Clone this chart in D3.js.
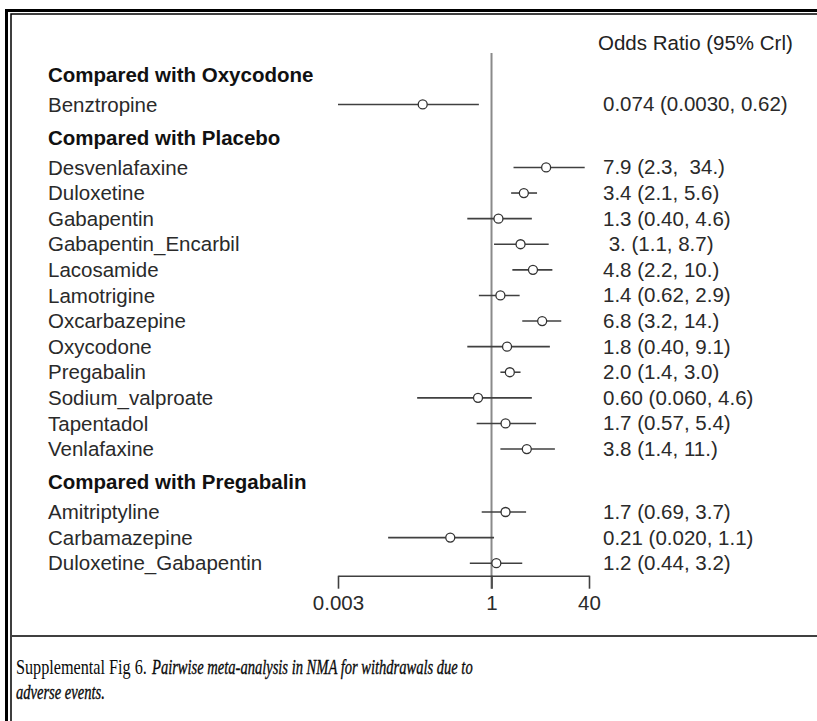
<!DOCTYPE html>
<html>
<head>
<meta charset="utf-8">
<script src="https://cdn.jsdelivr.net/npm/d3@7"></script>
<style>
  body { margin: 0; background: #fff; }
  svg { display: block; }
  text { white-space: pre; }
</style>
</head>
<body>
<div id="chart"></div>
<script>
const groups = ["Compared with Oxycodone", "Compared with Placebo", "Compared with Pregabalin"];

const treatments = [
  "Benztropine",
  "Desvenlafaxine", "Duloxetine", "Gabapentin", "Gabapentin_Encarbil", "Lacosamide",
  "Lamotrigine", "Oxcarbazepine", "Oxycodone", "Pregabalin", "Sodium_valproate",
  "Tapentadol", "Venlafaxine",
  "Amitriptyline", "Carbamazepine", "Duloxetine_Gabapentin"
];
const groupOf = [0, 1, 1, 1, 1, 1, 1, 1, 1, 1, 1, 1, 1, 2, 2, 2];

const estimate = [0.074, 7.9, 3.4, 1.3, 3.0, 4.8, 1.4, 6.8, 1.8, 2.0, 0.60, 1.7, 3.8, 1.7, 0.21, 1.2];
const lower = [0.0030, 2.3, 2.1, 0.40, 1.1, 2.2, 0.62, 3.2, 0.40, 1.4, 0.060, 0.57, 1.4, 0.69, 0.020, 0.44];
const upper = [0.62, 34, 5.6, 4.6, 8.7, 10, 2.9, 14, 9.1, 3.0, 4.6, 5.4, 11, 3.7, 1.1, 3.2];

const valueLabels = [
  "0.074 (0.0030, 0.62)",
  "7.9 (2.3,  34.)", "3.4 (2.1, 5.6)", "1.3 (0.40, 4.6)", " 3. (1.1, 8.7)", "4.8 (2.2, 10.)",
  "1.4 (0.62, 2.9)", "6.8 (3.2, 14.)", "1.8 (0.40, 9.1)", "2.0 (1.4, 3.0)", "0.60 (0.060, 4.6)",
  "1.7 (0.57, 5.4)", "3.8 (1.4, 11.)",
  "1.7 (0.69, 3.7)", "0.21 (0.020, 1.1)", "1.2 (0.44, 3.2)"
];

const tickValues = [0.003, 1, 40];
const tickLabels = ["0.003", "1", "40"];
const columnTitle = "Odds Ratio (95% Crl)";

const width = 817, height = 721;
const font = "'Liberation Sans', Arial, sans-serif";
const fontSize = 20.5;

// build the row list: group header rows followed by their treatments
const rows = [];
let u = 0;
let prev = null;
treatments.forEach((t, i) => {
  if (i === 0 || groupOf[i] !== groupOf[i - 1]) {
    if (prev) u += 1.29;
    rows.push({ type: "header", label: groups[groupOf[i]], u });
    prev = "header";
  }
  u += prev === "header" ? 1.17 : 1;
  rows.push({ type: "item", label: treatments[i], u, est: estimate[i], lo: lower[i], hi: upper[i], text: valueLabels[i] });
  prev = "item";
});
const items = rows.filter(d => d.type === "item");

const y = d3.scaleLinear().domain([0, 1]).range([74.5, 100.1]);
const x = d3.scaleLog().domain([0.003, 40]).range([338, 589]);

const svg = d3.select("#chart")
  .append("svg")
  .attr("width", width)
  .attr("height", height);

// double frame (top and left)
svg.append("path")
  .attr("d", `M6.5,${height}V10.5H${width}`)
  .attr("fill", "none")
  .attr("stroke", "#000")
  .attr("stroke-width", 3);
svg.append("path")
  .attr("d", `M11,${height}V14H${width}`)
  .attr("fill", "none")
  .attr("stroke", "#000")
  .attr("stroke-width", 1.5);

// column title
svg.append("text")
  .attr("x", 598)
  .attr("y", 50)
  .attr("font-family", font)
  .attr("font-size", fontSize)
  .attr("fill", "#222")
  .text(columnTitle);

const axisY = y(items[items.length - 1].u) + 12.5;

// line of no effect
svg.append("line")
  .attr("x1", x(1)).attr("x2", x(1))
  .attr("y1", 53).attr("y2", axisY + 13)
  .attr("stroke", "#8a8a8a")
  .attr("stroke-width", 2);

// row labels
svg.append("g")
  .selectAll("text")
  .data(rows)
  .join("text")
  .attr("x", 48)
  .attr("y", d => y(d.u) + 7.2)
  .attr("font-family", font)
  .attr("font-size", fontSize)
  .attr("font-weight", d => d.type === "header" ? "bold" : "normal")
  .attr("fill", d => d.type === "header" ? "#111" : "#2a2a2a")
  .text(d => d.label);

// credible intervals
svg.append("g")
  .attr("stroke", "#404040")
  .attr("stroke-width", 1.6)
  .selectAll("line")
  .data(items)
  .join("line")
  .attr("x1", d => x(d.lo))
  .attr("x2", d => x(d.hi))
  .attr("y1", d => y(d.u))
  .attr("y2", d => y(d.u));

// point estimates
svg.append("g")
  .selectAll("circle")
  .data(items)
  .join("circle")
  .attr("cx", d => x(d.est))
  .attr("cy", d => y(d.u))
  .attr("r", 4.5)
  .attr("fill", "#fff")
  .attr("stroke", "#333")
  .attr("stroke-width", 1.3);

// value column
svg.append("g")
  .selectAll("text")
  .data(items)
  .join("text")
  .attr("x", 603)
  .attr("y", d => y(d.u) + 7)
  .attr("font-family", font)
  .attr("font-size", fontSize)
  .attr("fill", "#2a2a2a")
  .text(d => d.text);

// x axis
const axis = svg.append("g")
  .attr("transform", `translate(0,${axisY})`)
  .call(d3.axisBottom(x)
    .tickValues(tickValues)
    .tickFormat((d, i) => tickLabels[i])
    .tickSize(13)
    .tickSizeOuter(0)
    .tickPadding(7));
axis.select(".domain").attr("stroke", "#404040").attr("stroke-width", 1.6);
axis.selectAll(".tick line").attr("stroke", "#404040").attr("stroke-width", 1.6);
axis.selectAll(".tick text")
  .attr("font-family", font)
  .attr("font-size", fontSize)
  .attr("fill", "#2a2a2a");

// caption
svg.append("line")
  .attr("x1", 12).attr("x2", width)
  .attr("y1", 636).attr("y2", 636)
  .attr("stroke", "#000")
  .attr("stroke-width", 1.5);

// the caption face is narrower than Times, so each piece is squeezed to its width
const serif = "'Liberation Serif', 'Times New Roman', serif";
const capSize = 20;
function fitText(str, x0, y0, w, italic, scale) {
  const g = svg.append("g");
  const t = g.append("text")
    .attr("x", 0)
    .attr("y", y0)
    .attr("font-family", serif)
    .attr("font-size", capSize)
    .attr("font-style", italic ? "italic" : "normal")
    .attr("fill", "#0a0a0a")
    .text(str);
  if (italic) t.attr("stroke", "#0a0a0a").attr("stroke-width", 0.35);
  const s = scale || w / t.node().getComputedTextLength();
  g.attr("transform", `translate(${x0},0) scale(${s},1)`);
  return s;
}
fitText("Supplemental Fig 6.", 16, 674, 131, false);
const italicScale = fitText("Pairwise meta-analysis in NMA for withdrawals due to", 152, 674, 321, true);
fitText("adverse events.", 16, 699, 0, true, italicScale);
</script>
</body>
</html>
